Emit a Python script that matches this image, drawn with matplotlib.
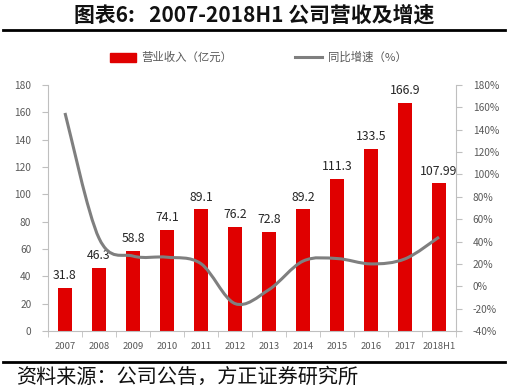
import matplotlib
matplotlib.use("Agg")
import matplotlib.pyplot as plt
from matplotlib.path import Path
from matplotlib.patches import PathPatch, Rectangle
from matplotlib.lines import Line2D
import numpy as np

plt.rcParams['font.family'] = ['Noto Sans CJK SC', 'DejaVu Sans']

years = ['2007', '2008', '2009', '2010', '2011', '2012', '2013', '2014', '2015', '2016', '2017', '2018H1']
revenue = [31.8, 46.3, 58.8, 74.1, 89.1, 76.2, 72.8, 89.2, 111.3, 133.5, 166.9, 107.99]
rev_labels = ['31.8', '46.3', '58.8', '74.1', '89.1', '76.2', '72.8', '89.2', '111.3', '133.5', '166.9', '107.99']
growth = [155, 43.0, 27.0, 26.0, 20.2, -15.5, -3.0, 22.5, 24.8, 20.0, 24.5, 44.0]

RED = '#e00000'
GRAY_LINE = '#7f7f7f'
TICK = '#595959'
AXC = '#bfbfbf'

fig = plt.figure(figsize=(5.08, 3.92), dpi=100)
ax = fig.add_axes([48/508, 1-331/392, (456-48)/508, (331-85)/392])
x = np.arange(len(years))
ax.bar(x, revenue, width=0.4, color=RED, zorder=2)
for xi, v, lab in zip(x, revenue, rev_labels):
    ax.text(xi, v + 4, lab, ha='center', va='bottom', fontsize=8.8, color='#262626')
ax.set_xlim(-0.5, len(years) - 0.5)
ax.set_ylim(0, 180)
ax.set_yticks(np.arange(0, 181, 20))
ax.set_xticks(x)
ax.set_xticklabels(years)
ax.set_xticks(np.arange(-0.5, len(years), 1), minor=True)
ax.tick_params(axis='x', which='major', length=0, labelsize=6.8, colors=TICK, pad=8)
ax.tick_params(axis='x', which='minor', length=4, color=AXC, direction='out')
ax.tick_params(axis='y', labelsize=7.3, colors=TICK, length=4, color=AXC, pad=8)
for s in ['top', 'right']:
    ax.spines[s].set_visible(False)
ax.spines['left'].set_color(AXC)
ax.spines['bottom'].set_color(AXC)

ax2 = ax.twinx()
ax2.set_ylim(-40, 180)
ax2.set_yticks(np.arange(-40, 181, 20))
ax2.set_yticklabels([f'{t}%' for t in range(-40, 181, 20)])
ax2.tick_params(axis='y', labelsize=7.3, colors=TICK, length=4, color=AXC, pad=8)
for s in ['top', 'left', 'bottom']:
    ax2.spines[s].set_visible(False)
ax2.spines['right'].set_color(AXC)

# smooth line via Catmull-Rom -> Bezier control points
pts = np.column_stack([x, growth]).astype(float)
verts = [tuple(pts[0])]
codes = [Path.MOVETO]
n = len(pts)
for i in range(n - 1):
    p0 = pts[i - 1] if i > 0 else pts[i]
    p1 = pts[i]
    p2 = pts[i + 1]
    p3 = pts[i + 2] if i + 2 < n else pts[i + 1]
    c1 = p1 + (p2 - p0) / 6.0
    c2 = p2 - (p3 - p1) / 6.0
    verts += [tuple(c1), tuple(c2), tuple(p2)]
    codes += [Path.CURVE4] * 3
ax2.add_patch(PathPatch(Path(verts, codes), facecolor='none', edgecolor=GRAY_LINE, lw=2.2, zorder=3))

# legend
fig.patches.append(Rectangle((110/508, 1-62/392), 26/508, 9/392, transform=fig.transFigure, color=RED))
fig.text(141/508, 1-57/392, '营业收入（亿元）', fontsize=8.2, color=TICK, va='center')
lg = Line2D([295/508, 322/508], [1-57/392, 1-57/392], color=GRAY_LINE, lw=2.2)
lg.set_transform(fig.transFigure)
fig.lines.append(lg)
fig.text(328/508, 1-57/392, '同比增速（%）', fontsize=8.2, color=TICK, va='center')

# title and rules
fig.text(0.5, 1-15/392, '图表6:   2007-2018H1 公司营收及增速', fontsize=15, fontweight='bold', ha='center', va='center', color='#111111')
l1 = Line2D([3/508, 505/508], [1-30/392, 1-30/392], color='black', lw=2)
l1.set_transform(fig.transFigure)
fig.lines.append(l1)
l2 = Line2D([3/508, 505/508], [1-362/392, 1-362/392], color='black', lw=2)
l2.set_transform(fig.transFigure)
fig.lines.append(l2)
fig.text(16/508, 1-377/392, '资料来源：公司公告，方正证券研究所', fontsize=14.5, ha='left', va='center', color='#111111')

fig.savefig('out.png', dpi=100)
